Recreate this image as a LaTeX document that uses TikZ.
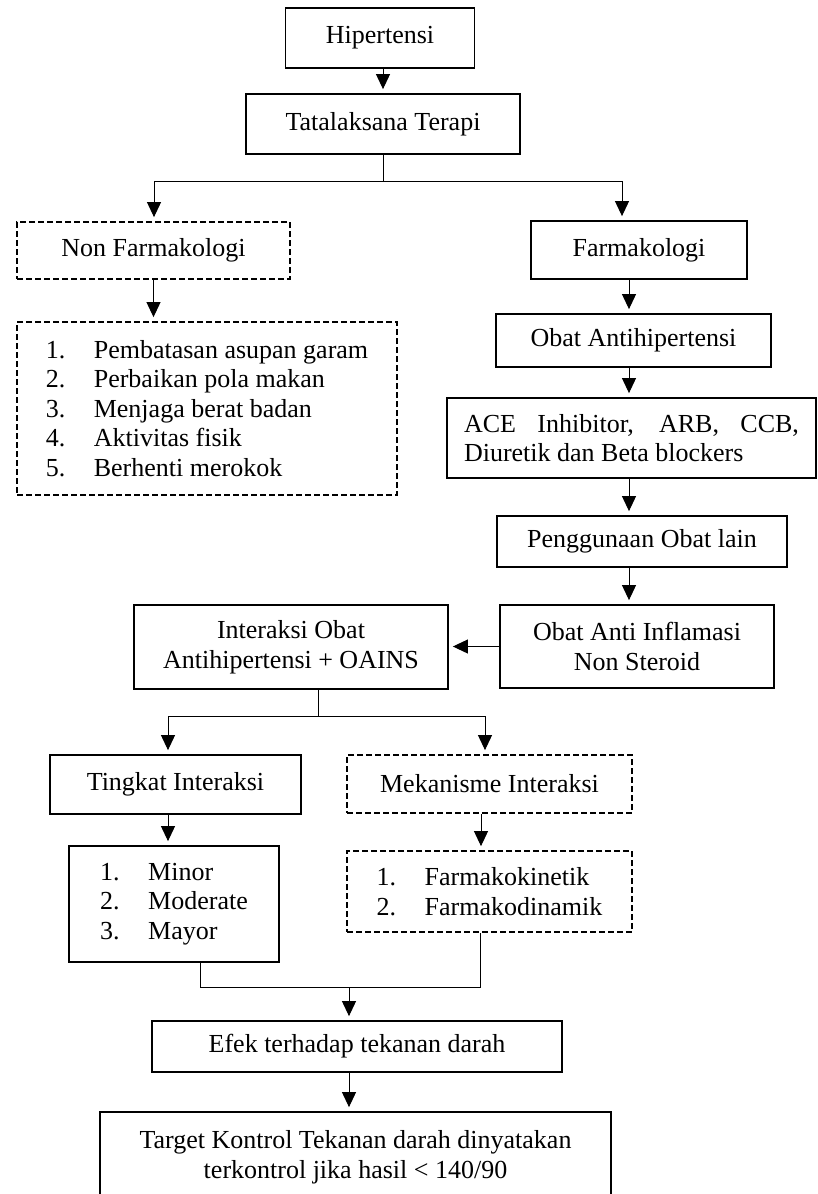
\documentclass[tikz,border=0pt]{standalone}
\usepackage{fontspec}
\setmainfont{Liberation Serif}
\usepackage{tikz}
\usetikzlibrary{positioning, arrows.meta}

\newcommand{\nomor}[1]{\makebox[48pt][l]{#1}}

\begin{document}
\begin{tikzpicture}[x=1pt, y=-1pt,
        caja/.style={draw, line width=1.8pt, inner sep=0pt, align=center, font=\fontsize{26}{29.5}\selectfont},
        punteada/.style={caja, dash pattern=on 6pt off 3pt},
        flecha/.style={line width=1pt, -{Triangle[length=15pt,width=14pt]}, shorten >=4pt},
        linea/.style={line width=1pt}]
        \useasboundingbox (0,0) rectangle (817,1194);
        % Cajas de la parte superior
        \node[caja, minimum width=189pt, minimum height=60pt] (hip) at (380,38) {Hipertensi};
        \node[caja, minimum width=274pt, minimum height=60pt] (tata) at (383,124) {Tatalaksana Terapi};
        \node[punteada, minimum width=273pt, minimum height=57pt] (nonf) at (153.5,250.5) {Non Farmakologi};
        \node[caja, minimum width=216pt, minimum height=58pt] (farm) at (639,250) {Farmakologi};
        % Lista no farmacologica
        \node[punteada, minimum width=380pt, minimum height=173pt, align=left] (lista) at (207,408.5)
            {\nomor{1.}Pembatasan asupan garam\\ \nomor{2.}Perbaikan pola makan\\ \nomor{3.}Menjaga berat badan\\
             \nomor{4.}Aktivitas fisik\\ \nomor{5.}Berhenti merokok};
        % Columna derecha
        \node[caja, minimum width=275pt, minimum height=53pt] (obat) at (633.5,340.5) {Obat Antihipertensi};
        \node[caja, minimum width=369pt, minimum height=80pt, align=left] (ace) at (631.5,438)
            {\makebox[335pt][s]{ACE Inhibitor, ARB, CCB,}\\Diuretik dan Beta blockers};
        \node[caja, minimum width=290pt, minimum height=51pt] (peng) at (642,541.5) {Penggunaan Obat lain};
        \node[caja, minimum width=274pt, minimum height=83pt] (oains) at (637,646.5) {Obat Anti Inflamasi\\Non Steroid};
        \node[caja, minimum width=314pt, minimum height=84pt] (inter) at (291,647) {Interaksi Obat\\Antihipertensi + OAINS};
        % Tingkat y mecanismo
        \node[caja, minimum width=251pt, minimum height=59pt] (ting) at (175.5,784.5) {Tingkat Interaksi};
        \node[punteada, minimum width=285pt, minimum height=58pt] (meka) at (489.5,784) {Mekanisme Interaksi};
        \node[caja, minimum width=210pt, minimum height=116pt, align=left] (minor) at (174,904)
            {\nomor{1.}Minor\\ \nomor{2.}Moderate\\ \nomor{3.}Mayor};
        \node[punteada, minimum width=285pt, minimum height=81pt, align=left] (fkin) at (489.5,891.5)
            {\nomor{1.}Farmakokinetik\\ \nomor{2.}Farmakodinamik};
        % Cajas finales
        \node[caja, minimum width=410pt, minimum height=51pt] (efek) at (357,1046.5) {Efek terhadap tekanan darah};
        \node[caja, minimum width=511pt, minimum height=90pt] (target) at (355.5,1157)
            {Target Kontrol Tekanan darah dinyatakan\\terkontrol jika hasil < 140/90};

        % Puntos de las ramas
        \coordinate (ramaI) at (154,181);
        \coordinate (ramaD) at (622,181);
        \coordinate (ejeD) at (629,0);
        \coordinate (bif) at (318,716);
        \coordinate (ramaT) at (168,716);
        \coordinate (ramaM) at (485,716);
        \coordinate (ejeM) at (481,0);
        \coordinate (salT) at (200,987);
        \coordinate (salM) at (480,987);
        \coordinate (junta) at (349,987);

        % Conectores
        \draw[flecha] (tata.north |- hip.south) -- (tata.north);
        \draw[flecha] (tata.south) |- (ramaI) -- (ramaI |- nonf.north);
        \draw[flecha] (tata.south |- ramaD) -- (ramaD) -- (ramaD |- farm.north);
        \draw[flecha] (nonf.south) -- (nonf.south |- lista.north);
        \draw[flecha] (farm.south -| ejeD) -- (obat.north -| ejeD);
        \draw[flecha] (obat.south -| ejeD) -- (ace.north -| ejeD);
        \draw[flecha] (ace.south -| ejeD) -- (peng.north -| ejeD);
        \draw[flecha] (peng.south -| ejeD) -- (oains.north -| ejeD);
        \draw[flecha] (oains.west) -- (inter.east |- oains.west);
        \draw[linea] (inter.south -| bif) -- (bif);
        \draw[flecha] (bif) -- (ramaT) -- (ramaT |- ting.north);
        \draw[flecha] (bif) -- (ramaM) -- (ramaM |- meka.north);
        \draw[flecha] (ting.south -| ramaT) -- (minor.north -| ramaT);
        \draw[flecha] (meka.south -| ejeM) -- (fkin.north -| ejeM);
        \draw[linea] (minor.south -| salT) -- (salT) -- (salM) -- (fkin.south -| salM);
        \draw[flecha] (junta) -- (junta |- efek.north);
        \draw[flecha] (efek.south -| junta) -- (target.north -| junta);
\end{tikzpicture}
\end{document}
